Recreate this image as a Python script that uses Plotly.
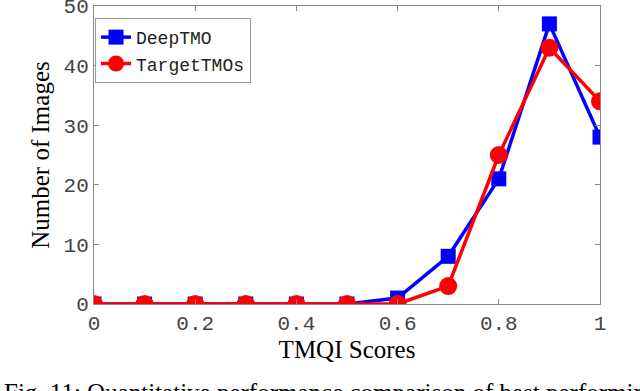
import plotly.graph_objects as go

scores = [0, 0.1, 0.2, 0.3, 0.4, 0.5, 0.6, 0.7, 0.8, 0.9, 1.0]
deeptmo = [0, 0, 0, 0, 0, 0, 1, 8, 21, 47, 28]
targettmos = [0, 0, 0, 0, 0, 0, 0, 3, 25, 43, 34]
xtick_vals = [0, 0.2, 0.4, 0.6, 0.8, 1.0]
xtick_text = ["0", "0.2", "0.4", "0.6", "0.8", "1"]
ytick_vals = [0, 10, 20, 30, 40, 50]

fig = go.Figure()
fig.add_trace(go.Scatter(
    x=scores, y=deeptmo, name="DeepTMO", mode="lines+markers",
    line=dict(color="#0000ff", width=3.5),
    marker=dict(symbol="square", size=15, color="#0000ff"),
))
fig.add_trace(go.Scatter(
    x=scores, y=targettmos, name="TargetTMOs", mode="lines+markers",
    line=dict(color="#ff0000", width=3.5),
    marker=dict(symbol="circle", size=18, color="#ff0000"),
))

mono = "Liberation Mono, Courier New, monospace"
serif = "Liberation Serif, Times New Roman, serif"

fig.update_layout(
    width=640, height=391,
    margin=dict(l=94, r=40, t=6, b=87, autoexpand=False),
    paper_bgcolor="white", plot_bgcolor="white",
    showlegend=True,
    legend=dict(
        x=0.002, y=0.96, xanchor="left", yanchor="top",
        bgcolor="white", bordercolor="#999999", borderwidth=1,
        font=dict(family=mono, size=18, color="#222222"),
        itemwidth=30, tracegroupgap=0,
    ),
    xaxis=dict(
        range=[0, 1], tickvals=xtick_vals, ticktext=xtick_text,
        showgrid=False, zeroline=False, automargin=False,
        showline=True, linecolor="#888888", linewidth=1, mirror="ticks",
        ticks="inside", ticklen=5, tickcolor="#888888",
        ticklabeloverflow="allow",
        tickfont=dict(family=mono, size=21, color="#444444"),
        title=dict(text="TMQI Scores", font=dict(family=serif, size=25, color="black"), standoff=0),
    ),
    yaxis=dict(
        range=[0, 50], tickvals=ytick_vals,
        showgrid=False, zeroline=False, automargin=False,
        showline=True, linecolor="#888888", linewidth=1, mirror="ticks",
        ticks="inside", ticklen=5, tickcolor="#888888",
        ticklabeloverflow="allow",
        tickfont=dict(family=mono, size=21, color="#444444"),
        title=dict(text="Number of Images", font=dict(family=serif, size=25, color="black"), standoff=6),
    ),
    annotations=[dict(
        text="Fig. 11: Quantitative performance comparison of best performing",
        xref="paper", yref="paper", x=-92/506, y=-73/298,
        xanchor="left", yanchor="top", showarrow=False,
        font=dict(family=serif, size=25, color="black"),
    )],
)

fig.write_html("out.html", config={"displayModeBar": False},
               post_script="document.body.style.margin='0';")
